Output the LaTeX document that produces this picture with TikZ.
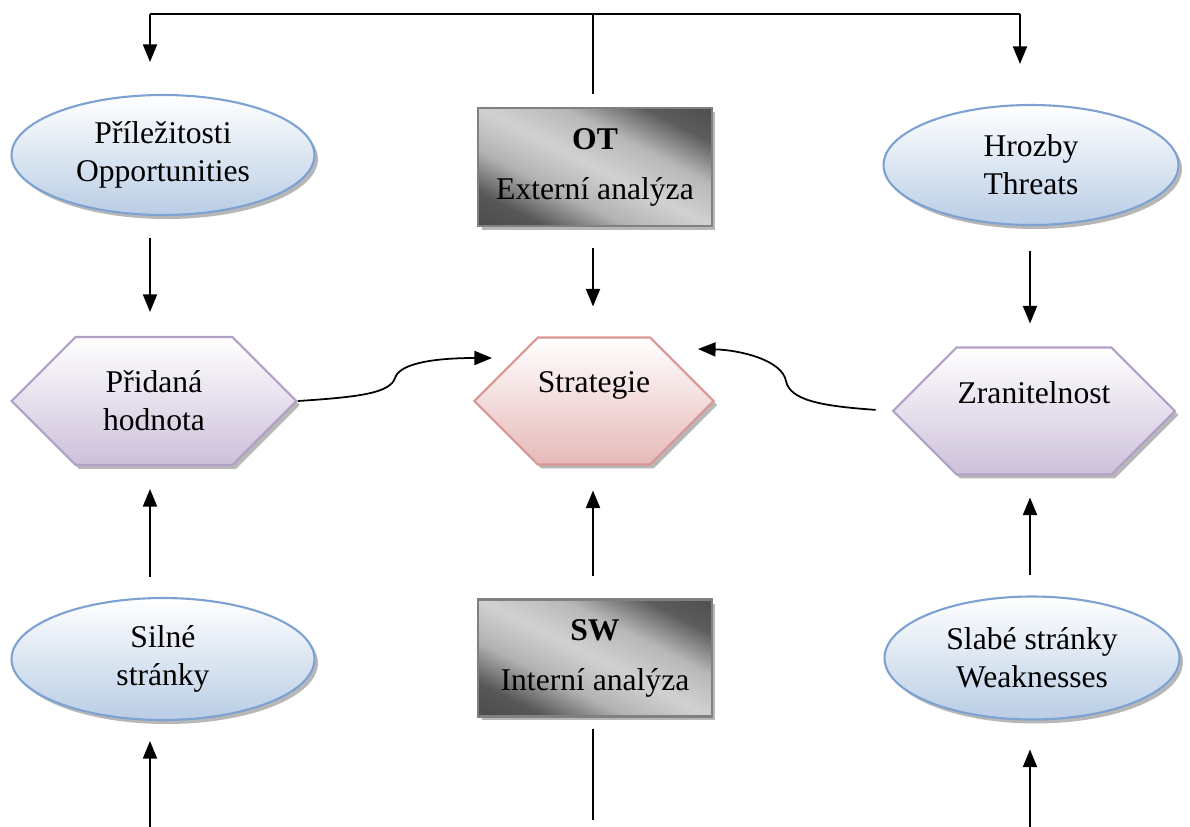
\documentclass[tikz,border=0pt]{standalone}
\usepackage{fontspec}
\setmainfont{Liberation Serif}
\usetikzlibrary{shapes.geometric,shapes.symbols,shadows,arrows.meta}

\definecolor{ellline}{RGB}{125,162,210}
\definecolor{ellfill}{RGB}{185,205,229}
\definecolor{hexline}{RGB}{178,161,199}
\definecolor{hexfill}{RGB}{204,192,218}
\definecolor{strline}{RGB}{217,150,148}
\definecolor{strfill}{RGB}{230,185,184}
\definecolor{boxline}{RGB}{128,128,128}

\pgfdeclarehorizontalshading{boxshade}{100bp}{color(0bp)=(black!78); color(26bp)=(black!66); color(38bp)=(black!30); color(50bp)=(black!18); color(62bp)=(black!28); color(74bp)=(black!64); color(100bp)=(black!78)}

\tikzset{
  shad/.style={drop shadow={shadow xshift=0.07cm, shadow yshift=-0.08cm, fill=black!40, opacity=0.7}},
  ell/.style={ellipse, draw=ellline, line width=1.2pt, top color=white, bottom color=ellfill,
    minimum width=6.06cm, minimum height=2.4cm, inner sep=0pt, align=center, shad},
  hex/.style={signal, signal to=west and east, signal from=nowhere, signal pointer angle=90,
    draw=hexline, line width=1.2pt, top color=white, bottom color=hexfill,
    minimum width=5.7cm, minimum height=2.56cm, inner sep=0pt, align=center, shad},
  graybox/.style={rectangle, draw=boxline, line width=1.2pt, shading=boxshade, shading angle=63,
    minimum width=4.68cm, minimum height=2.36cm, inner sep=0pt, align=center, shad},
  arr/.style={-{Triangle[length=10pt,width=8pt]}, line width=1pt},
  ln/.style={line width=1pt}
}

\begin{document}
\begin{tikzpicture}[x=0.02cm, y=-0.02cm, font=\fontsize{18}{21.5}\selectfont]
            \useasboundingbox (0,0) rectangle (1190,827);

            % columns of the arrows
            \coordinate (lx) at (150,0);
            \coordinate (mx) at (593,0);
            \coordinate (rx) at (1030,0);

            \node[ell] (prilezitosti) at (163,155) {Příležitosti\\Opportunities};
            \node[graybox] (ot) at (595,167) {\textbf{OT}\\[7pt]Externí analýza};
            \node[ell, minimum width=5.9cm] (hrozby) at (1031,165) {Hrozby\\Threats};

            \node[hex] (pridana) at (154,401) {Přidaná\\hodnota};
            \node[hex, minimum width=4.7cm, minimum height=2.54cm, draw=strline, bottom color=strfill] (strategie) at (594,401) {Strategie\\~};
            \node[hex, minimum width=5.64cm, minimum height=2.54cm] (zranitelnost) at (1034,411) {Zranitelnost\\~};

            \node[ell, minimum height=2.44cm] (silne) at (163,659) {Silné\\stránky};
            \node[graybox, minimum height=2.34cm] (sw) at (595,658) {\textbf{SW}\\[7pt]Interní analýza};
            \node[ell, minimum width=5.9cm, minimum height=2.46cm] (slabe) at (1032,658) {Slabé stránky\\Weaknesses};

            % top bar
            \coordinate (tl) at (150,14);
            \coordinate (tm) at (593,14);
            \coordinate (tr) at (1020,14);
            \draw[ln] (tl) -- (tr);
            \draw[arr, shorten >=0.64cm] (tl) -- (prilezitosti.north -| tl);
            \draw[arr, shorten >=0.8cm] (tr) -- (hrozby.north -| tr);
            \draw[ln, shorten >=0.26cm] (tm) -- (ot.north -| tm);

            % down arrows
            \draw[arr, shorten <=0.44cm, shorten >=0.48cm] (prilezitosti.south -| lx) -- (pridana.north -| lx);
            \draw[arr, shorten <=0.42cm, shorten >=0.6cm] (ot.south -| mx) -- (strategie.north -| mx);
            \draw[arr, shorten <=0.5cm, shorten >=0.46cm] (hrozby.south -| rx) -- (zranitelnost.north -| rx);

            % up arrows
            \draw[arr, shorten <=0.4cm, shorten >=0.46cm] (silne.north -| lx) -- (pridana.south -| lx);
            \draw[arr, shorten <=0.44cm, shorten >=0.5cm] (sw.north -| mx) -- (strategie.south -| mx);
            \draw[arr, shorten <=0.4cm, shorten >=0.44cm] (slabe.north -| rx) -- (zranitelnost.south -| rx);

            % bottom
            \coordinate (bl) at (150,827);
            \coordinate (bm) at (593,820);
            \coordinate (br) at (1030,827);
            \draw[arr, shorten >=0.4cm] (bl) -- (silne.south -| bl);
            \draw[arr, shorten >=0.58cm] (br) -- (slabe.south -| br);
            \draw[ln, shorten <=0.22cm] (sw.south -| bm) -- (bm);

            % curved arrows to strategie
            \coordinate (sl) at (492,358);
            \coordinate (sr) at (698,349);
            \draw[arr] (pridana.east) .. controls (360,397) and (390,393) .. (395,378)
                .. controls (400,362) and (440,358) .. (sl);
            \draw[arr, shorten <=0.32cm] (zranitelnost.west) .. controls (820,406) and (790,400) .. (786,381)
                .. controls (782,360) and (740,350) .. (sr);

        \end{tikzpicture}
\end{document}
